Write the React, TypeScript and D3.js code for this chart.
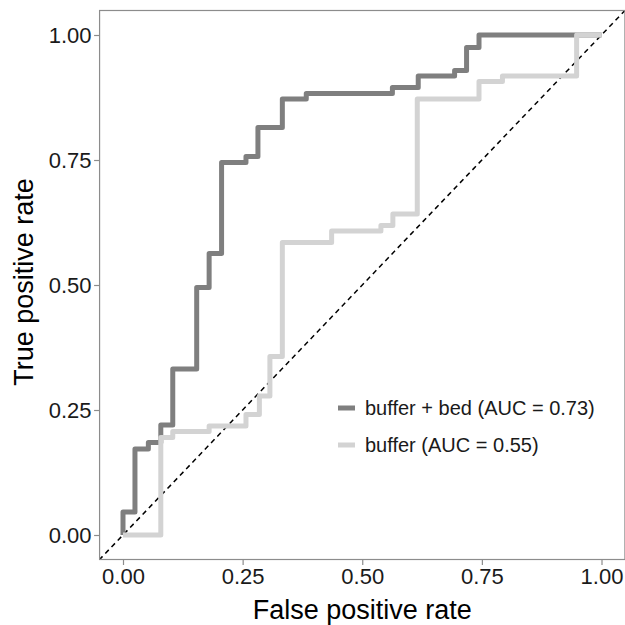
import React, { useRef, useEffect } from 'react';
import * as d3 from 'd3';

// ROC vertices
const bedFpr = [0, 0, 0.025, 0.025, 0.053, 0.053, 0.079, 0.079, 0.104, 0.104, 0.154, 0.154, 0.18, 0.18, 0.206, 0.206, 0.257, 0.257, 0.282, 0.282, 0.333, 0.333, 0.383, 0.383, 0.563, 0.563, 0.617, 0.617, 0.693, 0.693, 0.718, 0.718, 0.744, 0.744, 1];
const bedTpr = [0, 0.046, 0.046, 0.172, 0.172, 0.185, 0.185, 0.22, 0.22, 0.332, 0.332, 0.495, 0.495, 0.563, 0.563, 0.745, 0.745, 0.757, 0.757, 0.815, 0.815, 0.872, 0.872, 0.883, 0.883, 0.895, 0.895, 0.918, 0.918, 0.929, 0.929, 0.975, 0.975, 1, 1];

const bufFpr = [0, 0.079, 0.079, 0.104, 0.104, 0.18, 0.18, 0.257, 0.257, 0.285, 0.285, 0.307, 0.307, 0.333, 0.333, 0.436, 0.436, 0.539, 0.539, 0.564, 0.564, 0.615, 0.615, 0.744, 0.744, 0.793, 0.793, 0.948, 0.948, 1];
const bufTpr = [0, 0, 0.195, 0.195, 0.207, 0.207, 0.218, 0.218, 0.241, 0.241, 0.278, 0.278, 0.357, 0.357, 0.585, 0.585, 0.608, 0.608, 0.619, 0.619, 0.642, 0.642, 0.872, 0.872, 0.907, 0.907, 0.918, 0.918, 1, 1];

const seriesNames = ['buffer + bed (AUC = 0.73)', 'buffer (AUC = 0.55)'];
const seriesColors = ['#7f7f7f', '#d3d3d3'];
const tickValues = [0, 0.25, 0.5, 0.75, 1];

const FONT = '"Liberation Sans", Arial, Helvetica, sans-serif';

const App: React.FC = () => {
  const svgRef = useRef<SVGSVGElement | null>(null);

  useEffect(() => {
    if (!svgRef.current) return;
    const svg = d3.select(svgRef.current);
    svg.selectAll('*').remove();

    const x = d3.scaleLinear().domain([0, 1]).range([123, 601.5]);
    const y = d3.scaleLinear().domain([0, 1]).range([535, 35]);

    const px0 = x(-0.05), px1 = x(1.05);
    const py0 = y(1.05), py1 = y(-0.05);

    svg.append('defs').append('clipPath').attr('id', 'panel-clip')
      .append('rect')
      .attr('x', px0).attr('y', py0)
      .attr('width', px1 - px0).attr('height', py1 - py0);

    // panel
    svg.append('rect')
      .attr('x', px0).attr('y', py0)
      .attr('width', px1 - px0).attr('height', py1 - py0)
      .attr('fill', 'white');

    const plot = svg.append('g').attr('clip-path', 'url(#panel-clip)');

    // reference diagonal
    plot.append('line')
      .attr('x1', x(-0.05)).attr('y1', y(-0.05))
      .attr('x2', x(1.05)).attr('y2', y(1.05))
      .attr('stroke', 'black')
      .attr('stroke-width', 1.5)
      .attr('stroke-dasharray', '5,4');

    const line = d3.line<[number, number]>()
      .x(d => x(d[0]))
      .y(d => y(d[1]));

    const curves: [number, number][][] = [
      bedFpr.map((f, i) => [f, bedTpr[i]]),
      bufFpr.map((f, i) => [f, bufTpr[i]]),
    ];

    curves.forEach((pts, i) => {
      plot.append('path')
        .datum(pts)
        .attr('fill', 'none')
        .attr('stroke', seriesColors[i])
        .attr('stroke-width', 5)
        .attr('stroke-linejoin', 'round')
        .attr('d', line);
    });

    // border
    svg.append('rect')
      .attr('x', px0 + 0.5).attr('y', py0 + 0.5)
      .attr('width', px1 - px0 - 1).attr('height', py1 - py0 - 1)
      .attr('fill', 'none')
      .attr('stroke', '#8c8c8c')
      .attr('stroke-width', 1.2);

    // axes
    const fmt = d3.format('.2f');
    const xAxis = svg.append('g')
      .attr('transform', `translate(0,${py1})`)
      .call(d3.axisBottom(x).tickValues(tickValues).tickFormat(d => fmt(d as number)).tickSize(5).tickPadding(3));
    const yAxis = svg.append('g')
      .attr('transform', `translate(${px0},0)`)
      .call(d3.axisLeft(y).tickValues(tickValues).tickFormat(d => fmt(d as number)).tickSize(5).tickPadding(2.5));

    [xAxis, yAxis].forEach(ax => {
      ax.select('.domain').remove();
      ax.selectAll('.tick line').attr('stroke', '#8c8c8c').attr('stroke-width', 1.2);
      ax.selectAll('.tick text')
        .attr('fill', '#1a1a1a')
        .style('font-family', FONT)
        .style('font-size', '22px');
    });

    // axis titles
    svg.append('text')
      .attr('x', (x(0) + x(1)) / 2)
      .attr('y', 619)
      .attr('text-anchor', 'middle')
      .style('font-family', FONT)
      .style('font-size', '27px')
      .attr('fill', 'black')
      .text('False positive rate');

    svg.append('text')
      .attr('transform', `translate(33,282) rotate(-90)`)
      .attr('text-anchor', 'middle')
      .style('font-family', FONT)
      .style('font-size', '27px')
      .attr('fill', 'black')
      .text('True positive rate');

    // legend
    const legend = svg.append('g').attr('transform', 'translate(338,408)');
    seriesNames.forEach((name, i) => {
      const row = legend.append('g').attr('transform', `translate(0,${i * 37})`);
      row.append('line')
        .attr('x1', 0).attr('x2', 17)
        .attr('y1', 0).attr('y2', 0)
        .attr('stroke', seriesColors[i])
        .attr('stroke-width', 5);
      row.append('text')
        .attr('x', 27)
        .attr('y', 7)
        .style('font-family', FONT)
        .style('font-size', '20px')
        .attr('fill', '#1a1a1a')
        .text(name);
    });
  }, []);

  return (
    <svg
      ref={svgRef}
      width={625}
      height={625}
      style={{ position: 'absolute', left: 0, top: 0, background: 'white' }}
    />
  );
};

export default App;
